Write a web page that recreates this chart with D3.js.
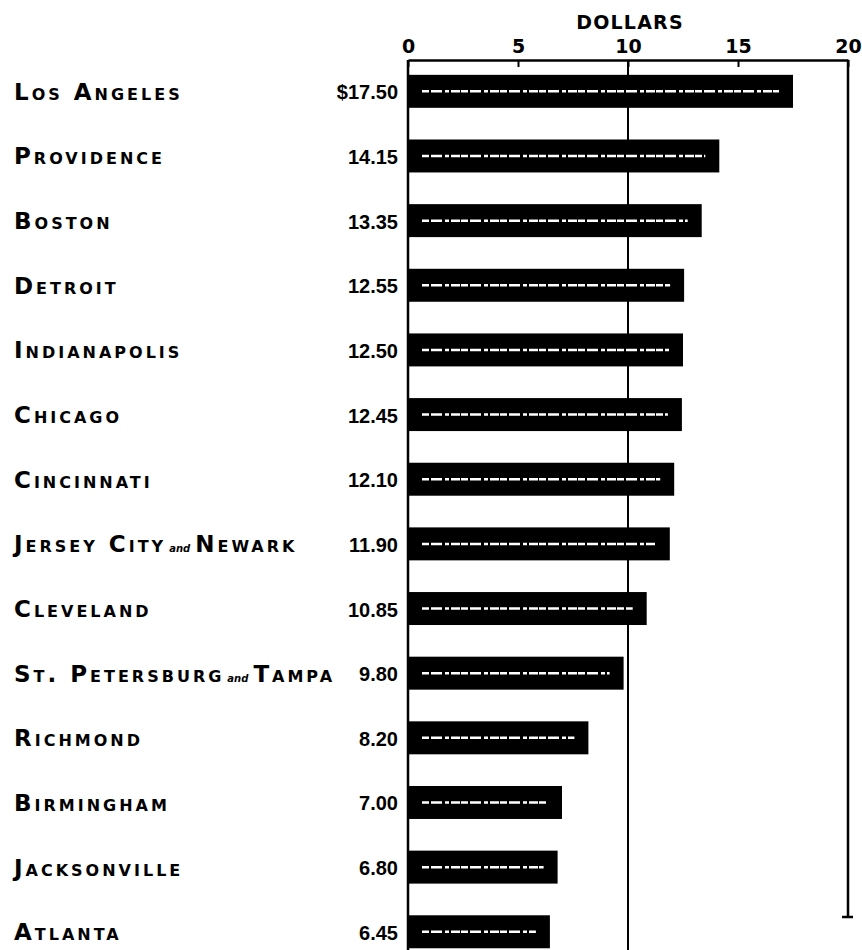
<!DOCTYPE html>
<html>
<head>
<meta charset="utf-8">
<script src="https://cdn.jsdelivr.net/npm/d3@7"></script>
<style>
  body { margin: 0; background: #fff; }
  svg { display: block; }
  .city { font-family: "DejaVu Sans", sans-serif; font-weight: bold; font-size: 23px; font-variant: small-caps; letter-spacing: 3px; }
  .and { font-size: 10px; font-variant: normal; letter-spacing: 0; font-style: italic; }
  .val { font-family: "Liberation Sans", sans-serif; font-weight: bold; font-size: 20px; }
  .axis text { font-family: "DejaVu Sans", sans-serif; font-weight: bold; font-size: 19px; fill: #000; }
</style>
</head>
<body>
<svg width="862" height="950"></svg>
<script>
// city names (first part / joined part for the two-city rows)
const cities = ["Los Angeles", "Providence", "Boston", "Detroit", "Indianapolis",
  "Chicago", "Cincinnati", "Jersey City|Newark", "Cleveland",
  "St. Petersburg|Tampa", "Richmond", "Birmingham", "Jacksonville", "Atlanta"];

const values = [17.50, 14.15, 13.35, 12.55, 12.50, 12.45, 12.10, 11.90, 10.85,
  9.80, 8.20, 7.00, 6.80, 6.45];

const valueLabels = ["$17.50", "14.15", "13.35", "12.55", "12.50", "12.45", "12.10",
  "11.90", "10.85", "9.80", "8.20", "7.00", "6.80", "6.45"];

const ticks = [0, 5, 10, 15, 20];

const svg = d3.select("svg");

// scales
var x = d3.scaleLinear().domain([0, 20]).range([408, 848]);
var step = 64.65;
var y = d3.scaleBand()
    .domain(cities)
    .range([59, 59 + cities.length * step])
    .paddingInner(0.49)
    .paddingOuter(0.245);

var axisY = 60;

// frame lines
svg.append("line")   // left axis
    .attr("x1", x(0)).attr("x2", x(0))
    .attr("y1", axisY).attr("y2", 950)
    .attr("stroke", "#000").attr("stroke-width", 2.5);

svg.append("line")   // 10 dollar line
    .attr("x1", x(10)).attr("x2", x(10))
    .attr("y1", axisY).attr("y2", 950)
    .attr("stroke", "#000").attr("stroke-width", 2);

svg.append("line")   // right line
    .attr("x1", x(20)).attr("x2", x(20))
    .attr("y1", axisY).attr("y2", 917)
    .attr("stroke", "#000").attr("stroke-width", 2.5);

svg.append("line")   // foot of right line
    .attr("x1", x(20) - 6).attr("x2", x(20) + 5)
    .attr("y1", 917).attr("y2", 917)
    .attr("stroke", "#000").attr("stroke-width", 2.5);

// top axis
var xAxis = d3.axisTop(x)
    .tickValues(ticks)
    .tickSizeInner(-7)
    .tickSizeOuter(0)
    .tickPadding(7)
    .tickFormat(d3.format("d"));

var gx = svg.append("g")
    .attr("class", "axis")
    .attr("transform", "translate(0," + axisY + ")")
    .call(xAxis);
gx.select(".domain").attr("stroke-width", 2.5);
gx.selectAll(".tick line").attr("stroke-width", 2);

svg.append("text")      // axis title
    .attr("x", x(10) + 2)
    .attr("y", 29)
    .attr("text-anchor", "middle")
    .style("font-family", "DejaVu Sans, sans-serif")
    .style("font-weight", "bold")
    .style("font-size", "19px")
    .style("letter-spacing", "1.2px")
    .text("DOLLARS");

// bars
svg.append("g").selectAll("rect")
  .data(cities)
  .join("rect")
    .attr("x", x(0))
    .attr("y", d => y(d))
    .attr("width", (d, i) => x(values[i]) - x(0))
    .attr("height", y.bandwidth())
    .attr("fill", "#000");

// white streak through each bar
svg.append("g").selectAll("line")
  .data(cities)
  .join("line")
    .attr("x1", x(0) + 14)
    .attr("x2", (d, i) => x(values[i]) - 14)
    .attr("y1", d => y(d) + y.bandwidth() / 2)
    .attr("y2", d => y(d) + y.bandwidth() / 2)
    .attr("stroke", "#fff")
    .attr("stroke-width", 2.5)
    .attr("stroke-dasharray", "7 2 11 3 4 2 9 1");

// value labels
svg.append("g").selectAll("text")
  .data(cities)
  .join("text")
    .attr("class", "val")
    .attr("x", 398)
    .attr("y", d => y(d) + y.bandwidth() / 2 + 8)
    .attr("text-anchor", "end")
    .text((d, i) => valueLabels[i]);

// city labels
var lab = svg.append("g").selectAll("text")
  .data(cities)
  .join("text")
    .attr("class", "city")
    .attr("x", 14)
    .attr("y", d => y(d) + y.bandwidth() / 2 + 8.5);

lab.each(function(d) {
  var t = d3.select(this);
  var parts = d.split("|");
  t.append("tspan").text(parts[0]);
  if (parts.length > 1) {
    t.append("tspan").attr("class", "and").attr("dx", 3).text("and");
    t.append("tspan").attr("dx", 5).text(parts[1]);
  }
});
</script>
</body>
</html>
